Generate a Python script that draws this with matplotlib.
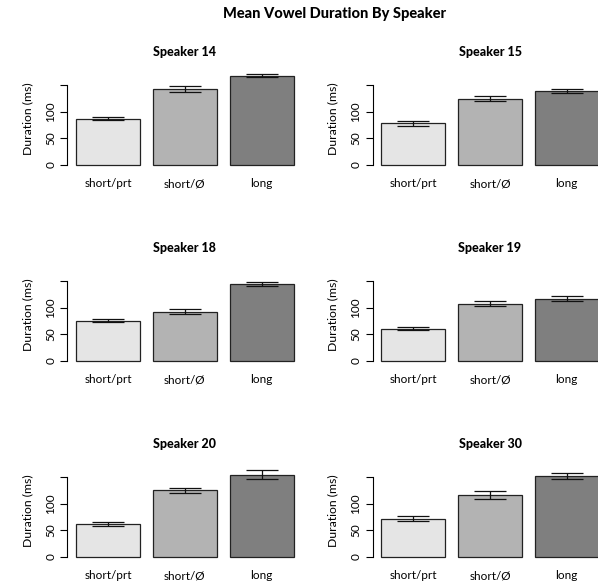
import matplotlib
matplotlib.use("Agg")
import matplotlib.pyplot as plt
import numpy as np

categories = ["short/prt", "short/\u00d8", "long"]
speakers = ["Speaker 14", "Speaker 15", "Speaker 18", "Speaker 19", "Speaker 20", "Speaker 30"]
means = {
    "Speaker 14": [87.5, 143.5, 168.0],
    "Speaker 15": [78.5, 125.0, 139.5],
    "Speaker 18": [76.0, 92.5, 145.0],
    "Speaker 19": [61.0, 107.5, 117.5],
    "Speaker 20": [63.0, 126.0, 155.0],
    "Speaker 30": [72.5, 117.0, 152.0],
}
errors = {
    "Speaker 14": [3.5, 5.6, 3.0],
    "Speaker 15": [4.4, 5.0, 3.8],
    "Speaker 18": [3.0, 4.7, 3.8],
    "Speaker 19": [3.5, 4.7, 4.4],
    "Speaker 20": [3.8, 4.7, 9.0],
    "Speaker 30": [4.4, 7.5, 5.4],
}
yticks = [0, 50, 100, 150]
yticklabels = ["0", "50", "100", ""]
bar_colors = ["#E5E5E5", "#B3B3B3", "#7F7F7F"]

W, H = 598, 582
plt.rcParams['font.family'] = ['Lato', 'DejaVu Sans']
fig = plt.figure(figsize=(W / 100, H / 100), dpi=100)

x_left = [67.3, 372.5]
zero_y = [165, 361, 557]
px_per_unit = 64.0
px_per_ms = 0.531
xlim = (0.064, 3.736)
ylim = (0, 180)
bar_x = np.array([0.7, 1.9, 3.1])

for i, sp in enumerate(speakers):
    r, c = divmod(i, 2)
    x0 = x_left[c]
    z = zero_y[r]
    wpx = (xlim[1] - xlim[0]) * px_per_unit
    hpx = (ylim[1] - ylim[0]) * px_per_ms
    ax = fig.add_axes([x0 / W, 1 - z / H, wpx / W, hpx / H])
    ax.set_xlim(*xlim)
    ax.set_ylim(*ylim)
    ax.patch.set_alpha(0)
    ax.bar(bar_x, means[sp], width=1.0, color=bar_colors, edgecolor="#222222",
           linewidth=0.9, clip_on=False, zorder=2)
    ax.errorbar(bar_x, means[sp], yerr=errors[sp], fmt="none", ecolor="#111111",
                elinewidth=0.9, capsize=11.5, capthick=0.9, clip_on=False, zorder=3)
    for s in ["top", "right", "bottom"]:
        ax.spines[s].set_visible(False)
    ax.spines["left"].set_bounds(0, 150)
    ax.spines["left"].set_linewidth(0.8)
    ax.set_yticks(yticks)
    ax.set_yticklabels(yticklabels, rotation=90, va="center", fontsize=8.5)
    ax.tick_params(axis="y", length=5, width=0.8, pad=3)
    ax.set_xticks([])
    for bx, cat in zip(bar_x, categories):
        ax.text(bx, -22.0 / hpx, cat, transform=ax.get_xaxis_transform(),
                ha="center", va="baseline", fontsize=8.5, clip_on=False)
    # y label
    fig.text((x0 - 40) / W, 1 - (z - 46) / H, "Duration (ms)", rotation=90,
             ha="center", va="center", fontsize=8.8)
    # panel title
    fig.text((x0 + wpx / 2) / W, 1 - (z - 113) / H, sp, ha="center", va="center",
             fontsize=9, fontweight="black")

fig.text(335 / W, 1 - 14 / H, "Mean Vowel Duration By Speaker", ha="center",
         va="center", fontsize=10.5, fontweight="black")

fig.savefig("out.png", dpi=100)
